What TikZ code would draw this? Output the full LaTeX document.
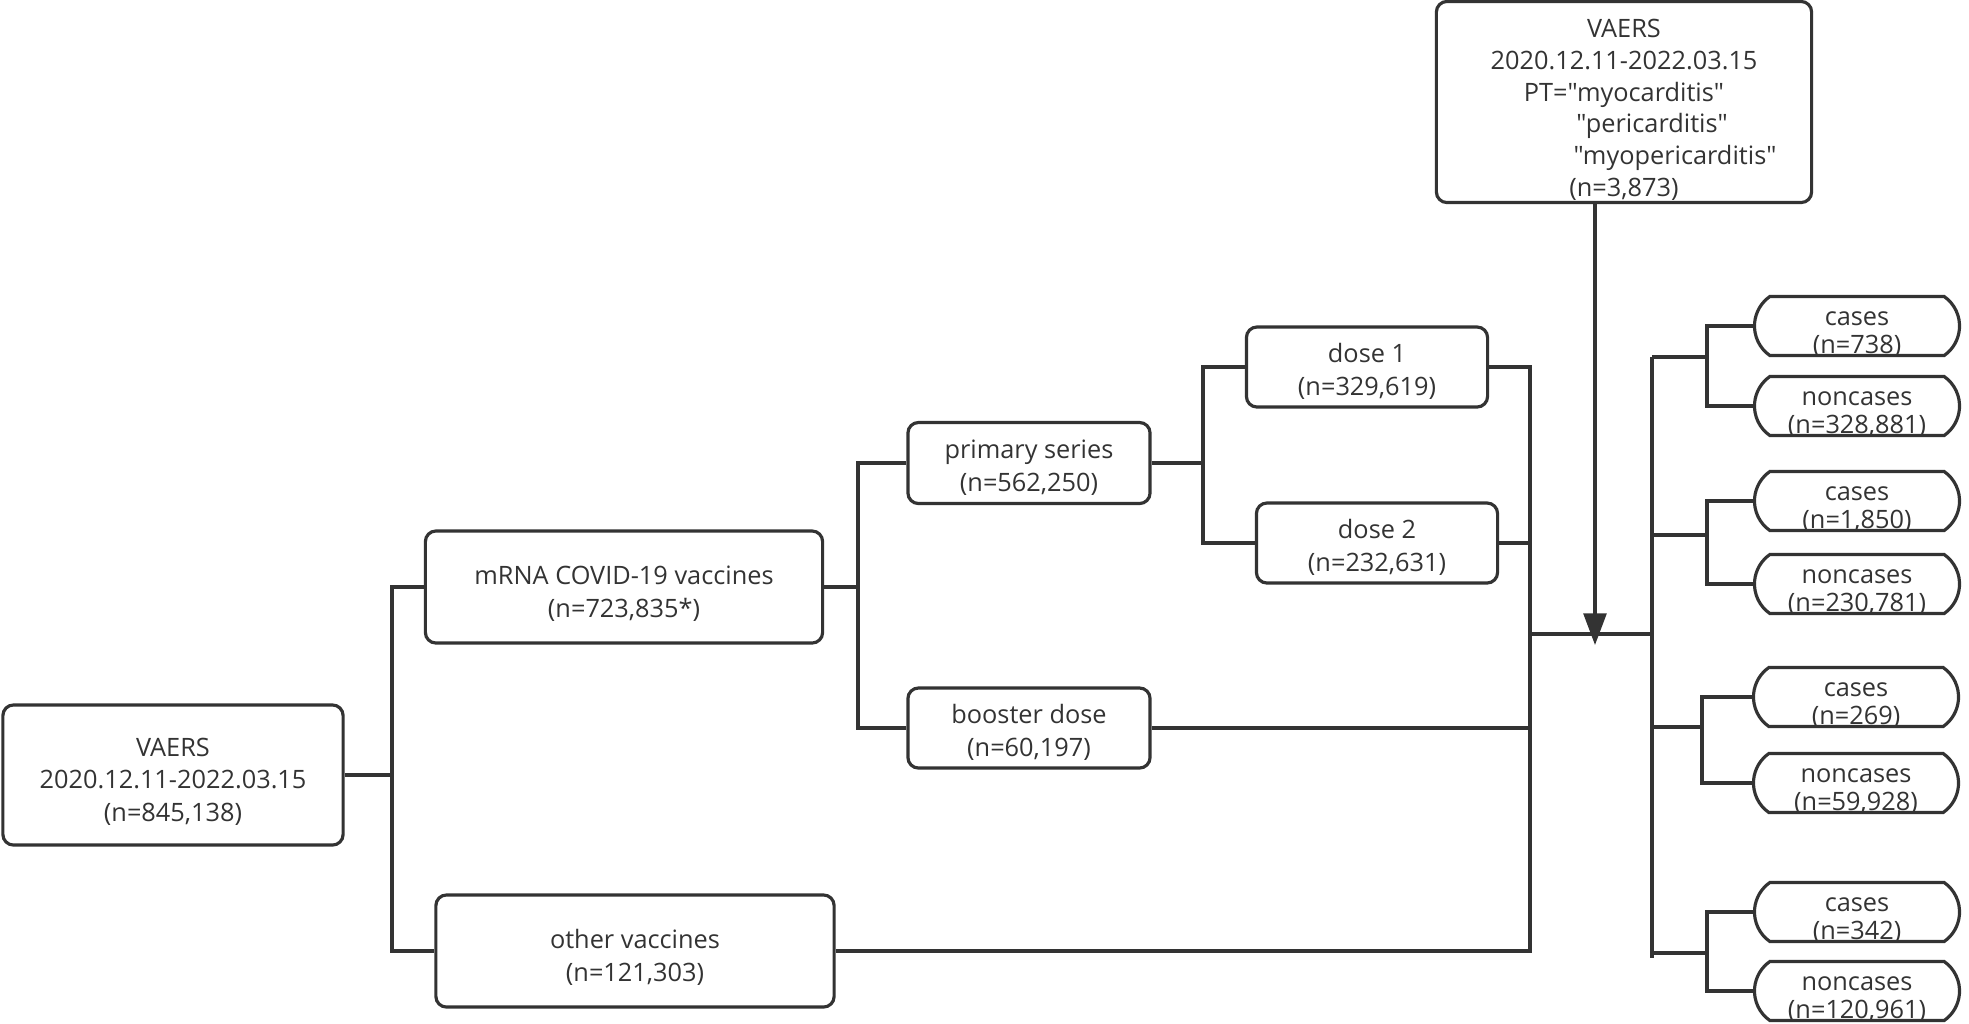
\documentclass[tikz,border=0pt]{standalone}
\usepackage{fontspec}
\setmainfont{Open Sans}[Ligatures=TeXOff]
\usetikzlibrary{arrows.meta,shapes.misc}
\definecolor{Ln}{RGB}{51,51,51}
\newcommand{\lift}[1]{\rule{0pt}{#1}}

\begin{document}
\begin{tikzpicture}[x=0.01cm,y=-0.01cm,color=Ln,line width=0.9pt,
    box/.style={draw,rounded corners=3pt,align=center,inner sep=0pt,
      font=\fontsize{7.2}{9.2}\selectfont},
    casebox/.style={draw,rounded rectangle,rounded rectangle arc length=110,
      minimum width=2.19cm,minimum height=0.59cm,inner xsep=2pt,inner ysep=-6pt,
      align=center,font=\fontsize{7.2}{8}\selectfont}]
  \useasboundingbox (0,0) rectangle (1969,1023);
  \node[box,minimum width=3.40cm,minimum height=1.40cm] (vaers) at (173,775) {\lift{9pt}VAERS\\2020.12.11-2022.03.15\\(n=845,138)};
  \node[box,minimum width=3.97cm,minimum height=1.12cm] (mrna) at (624,587) {\lift{9pt}mRNA COVID-19 vaccines\\(n=723,835*)};
  \node[box,minimum width=3.98cm,minimum height=1.12cm] (other) at (635,951) {\lift{9pt}other vaccines\\(n=121,303)};
  \node[box,minimum width=2.42cm,minimum height=0.81cm] (primary) at (1029,463) {\lift{8pt}primary series\\(n=562,250)};
  \node[box,minimum width=2.42cm,minimum height=0.80cm] (booster) at (1029,728) {\lift{8pt}booster dose\\(n=60,197)};
  \node[box,minimum width=2.41cm,minimum height=0.80cm] (dose1) at (1367,367) {\lift{8pt}dose 1\\(n=329,619)};
  \node[box,minimum width=2.41cm,minimum height=0.80cm] (dose2) at (1377,543) {\lift{8pt}dose 2\\(n=232,631)};
  \node[box,minimum width=3.75cm,minimum height=2.01cm,font=\fontsize{7.2}{9.0}\selectfont] (pt) at (1624,102)
    {\lift{9.6pt}VAERS\\2020.12.11-2022.03.15\\PT="myocarditis"\\\hspace*{16pt}"pericarditis"\\\hspace*{29pt}"myopericarditis"\\(n=3,873)};
  \node[casebox] (c1) at (1857,326) {\lift{9pt}cases\\(n=738)};
  \node[casebox] (n1) at (1857,406) {\lift{9pt}noncases\\(n=328,881)};
  \node[casebox] (c2) at (1857,501) {\lift{9pt}cases\\(n=1,850)};
  \node[casebox] (n2) at (1857,584) {\lift{9pt}noncases\\(n=230,781)};
  \node[casebox] (c3) at (1856,697) {\lift{9pt}cases\\(n=269)};
  \node[casebox] (n3) at (1856,783) {\lift{9pt}noncases\\(n=59,928)};
  \node[casebox] (c4) at (1857,912) {\lift{9pt}cases\\(n=342)};
  \node[casebox] (n4) at (1857,991) {\lift{9pt}noncases\\(n=120,961)};
  \coordinate (b0) at (392,0);
  \coordinate (b1) at (858,0);
  \coordinate (b2) at (1203,0);
  \coordinate (col) at (1530,0);
  \coordinate (hit) at (1595,645);
  \coordinate (split) at (1652,634);
  \coordinate (g1) at (1707,357);
  \coordinate (g2) at (1707,535);
  \coordinate (g3) at (1702,727);
  \coordinate (g4) at (1707,953);
  \coordinate (gend) at (1652,958);
  \draw (vaers.east) -- (vaers.east -| b0);
  \draw (mrna.west) -- (mrna.west -| b0) -- (other.west -| b0) -- (other.west);
  \draw (mrna.east) -- (mrna.east -| b1);
  \draw (primary.west) -- (primary.west -| b1) -- (booster.west -| b1) -- (booster.west);
  \draw (primary.east) -- (primary.east -| b2);
  \draw (dose1.west) -- (dose1.west -| b2) -- (dose2.west -| b2) -- (dose2.west);
  \draw (dose1.east) -- (dose1.east -| col) -- (other.east -| col) -- (other.east);
  \draw (dose2.east) -- (dose2.east -| col);
  \draw (booster.east) -- (booster.east -| col);
  \draw (col |- split) -- (split);
  \draw[-{Triangle[length=9pt,width=6.5pt]}] (pt.south -| hit) -- (hit);
  \draw (split |- g1) -- (gend);
  \foreach \c/\n/\g in {c1/n1/g1,c2/n2/g2,c3/n3/g3,c4/n4/g4}{
    \draw (split |- \g) -- (\g);
    \draw (\c.west) -- (\c.west -| \g) -- (\n.west -| \g) -- (\n.west);
  }
\end{tikzpicture}
\end{document}
